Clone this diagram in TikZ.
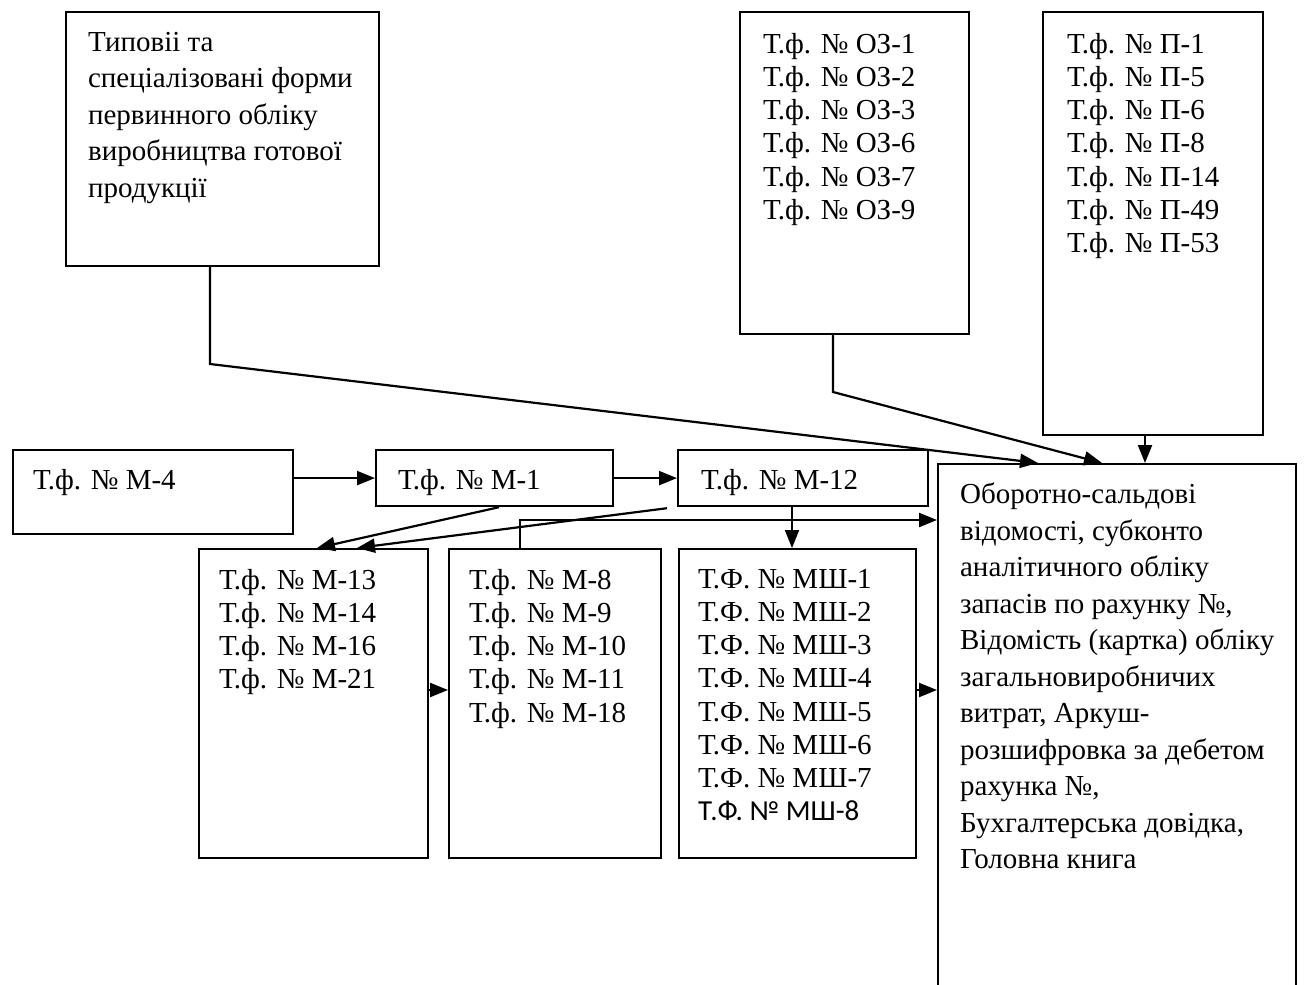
\documentclass[tikz,border=0pt]{standalone}
\usepackage{fontspec}
\setmainfont{Liberation Serif}
\newfontfamily\calibfont{Carlito}
\usetikzlibrary{arrows.meta,calc}
\newlength\upx
\setlength\upx{0.5pt}
% #1 width, #2 height, #3 left pad, #4 top pad, #5 text
\newcommand{\bxc}[5]{\begin{minipage}[c][#2\upx][t]{#1\upx}\vspace*{#4\upx}\raggedright\leftskip=#3\upx\relax
\fontsize{14.5}{16.6}\selectfont #5\end{minipage}}
\newcommand{\wide}{\fontsize{14.5}{18.25}\selectfont}
\begin{document}
\begin{tikzpicture}[x=0.5pt,y=-0.5pt,
  box/.style={draw, line width=1.1pt, anchor=north west, inner sep=0pt},
  arr/.style={line width=1.1pt, -{Triangle[length=9pt,width=7pt]}}]
\useasboundingbox (0,0) rectangle (1307,985);
\node[box] (tl) at (65,11) {\bxc{313}{254}{22}{20}{\wide Типовіі та\\спеціалізовані форми\\первинного обліку\\виробництва готової\\продукції}};
\node[box] (oz) at (739,11) {\bxc{229}{322}{23}{21}{Т.ф. № ОЗ-1\\Т.ф. № ОЗ-2\\Т.ф. № ОЗ-3\\Т.ф. № ОЗ-6\\Т.ф. № ОЗ-7\\Т.ф. № ОЗ-9}};
\node[box] (p) at (1042,11) {\bxc{220}{423}{24}{21}{Т.ф. № П-1\\Т.ф. № П-5\\Т.ф. № П-6\\Т.ф. № П-8\\Т.ф. № П-14\\Т.ф. № П-49\\Т.ф. № П-53}};
\node[box] (m4) at (12,449) {\bxc{280}{84}{20}{19}{Т.ф. № М-4}};
\node[box] (m1) at (375,449) {\bxc{237}{56}{22}{19}{Т.ф. № М-1}};
\node[box] (m12) at (677,449) {\bxc{250}{56}{23}{19}{Т.ф. № М-12}};
\node[box] (big) at (937,463) {\bxc{358}{540}{22}{19}{\wide Оборотно-сальдові\\відомості, субконто\\аналітичного обліку\\запасів по рахунку №,\\Відомість (картка) обліку\\загальновиробничих\\витрат, Аркуш-\\розшифровка за дебетом\\рахунка №,\\Бухгалтерська довідка,\\Головна книга}};
\node[box] (m13) at (198,548) {\bxc{229}{309}{20}{20}{Т.ф. № М-13\\Т.ф. № М-14\\Т.ф. № М-16\\Т.ф. № М-21}};
\node[box] (m8) at (448,548) {\bxc{212}{309}{20}{20}{Т.ф. № М-8\\Т.ф. № М-9\\Т.ф. № М-10\\Т.ф. № М-11\\Т.ф. № М-18}};
\node[box] (msh) at (678,548) {\bxc{237}{309}{19}{20}{Т.Ф. № МШ-1\\Т.Ф. № МШ-2\\Т.Ф. № МШ-3\\Т.Ф. № МШ-4\\Т.Ф. № МШ-5\\Т.Ф. № МШ-6\\Т.Ф. № МШ-7\\{\calibfont Т.Ф. № МШ-8}}};
% connectors
\coordinate (tlbend) at (210,364);
\draw[arr] ($(tl.south west)+(145,0)$) -- (tlbend) -- ($(big.north west)+(101,0)$);
\coordinate (ozbend) at (833,392);
\draw[arr] ($(oz.south west)+(94,0)$) -- (ozbend) -- ($(big.north west)+(165,0)$);
\draw[arr] ($(p.south west)+(103,0)$) -- ($(big.north west)+(208,0)$);
\draw[arr] (m1.west -| m4.east) -- (m1.west);
\draw[arr] (m1.east) -- (m12.west);
\draw[arr] ($(m1.south west)+(124,0)$) -- ($(m13.north west)+(119,0)$);
\draw[arr] ($(m12.south west)+(-10,1)$) -- ($(m13.north west)+(159,0)$);
\draw[arr] ($(m12.south west)+(115,0)$) -- ($(msh.north west)+(114,0)$);
\draw[arr] ($(m8.north west)+(72,0)$) |- ($(big.north west)+(0,57)$);
\draw[arr] ($(m13.north east)+(0,142)$) -- ($(m8.north west)+(0,142)$);
\draw[arr] ($(msh.north east)+(0,142)$) -- ($(big.north west)+(0,227)$);
\end{tikzpicture}
\end{document}
